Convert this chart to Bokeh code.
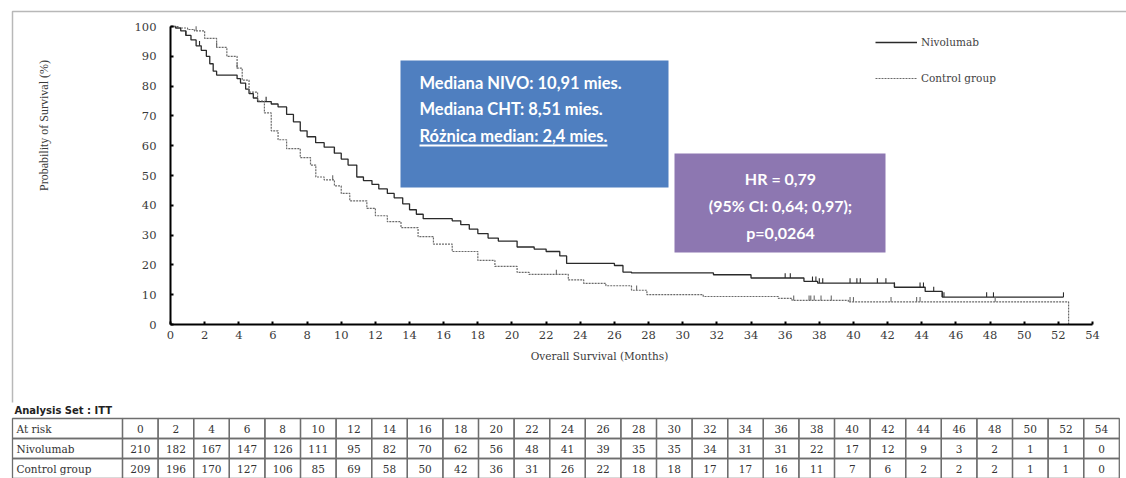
import numpy as np
from bokeh.plotting import figure
from bokeh.models import (Range1d, Label, BoxAnnotation, Legend, LegendItem,
                          ColumnDataSource, FixedTicker)
from bokeh.embed import file_html
from bokeh.resources import INLINE
from bokeh.core.properties import value

# ---- Kaplan-Meier estimates (months, survival % after each event) ----
nivo_time = [0, 0.3, 0.6, 0.9, 1.2, 1.5, 1.8, 2.1, 2.3, 2.5, 2.7, 3.9, 4.1, 4.4, 4.6,
             4.85, 5.1, 5.9, 6.3, 6.8, 7.2, 7.6, 8.0, 8.5, 9.0, 9.6, 10.0, 10.4, 10.91,
             11.3, 11.8, 12.2, 12.7, 13.1, 13.6, 14.0, 14.4, 14.8, 16.5, 17.0, 17.5,
             18.0, 18.6, 19.2, 20.3, 21.3, 22.0, 22.8, 23.2, 26.0, 26.5, 27.0, 31.8,
             34.0, 37.1, 37.9, 42.4, 44.2, 45.2, 52.3]
nivo_surv = [100, 99.5, 98.5, 97, 95.5, 93.5, 92, 90, 87.5, 85, 83.7, 82.5, 81, 79, 77.5,
             76, 74.8, 74, 73, 70.5, 68, 65, 63, 61, 59.5, 57.5, 55.5, 53.5, 49.5,
             48.3, 47, 45.5, 44, 42.5, 40.5, 38.5, 37, 35.5, 34.8, 33.5, 32,
             30.5, 29, 28, 26, 25.3, 24.5, 23, 20.5, 19.8, 17.6, 17.3, 16.7,
             15.6, 14.5, 13.9, 12.5, 11.1, 9.2, 9.2]

ctrl_time = [0, 0.5, 1.0, 1.4, 2.0, 2.7, 3.3, 3.9, 4.2, 4.6, 5.1, 5.5, 5.9, 6.3, 6.8,
             7.6, 8.2, 8.51, 9.0, 9.6, 10.0, 10.5, 11.5, 12.0, 12.7, 13.5, 14.5, 15.4,
             16.5, 18.0, 19.0, 20.3, 21.0, 23.3, 24.2, 25.5, 27.0, 27.9, 31.2, 35.6,
             36.4, 39.7, 52.6]
ctrl_surv = [100, 99.5, 99, 98.5, 96, 93, 90, 86, 82, 78, 75, 71, 65, 62, 59,
             56, 53.5, 49.5, 48.5, 46.5, 44, 41.5, 39, 36.5, 34.5, 32.5, 29.5, 27,
             24.5, 21.5, 19.5, 17.5, 16.8, 15, 13.8, 13, 11.5, 10.0, 9.4, 8.8,
             8.1, 7.6, 0]

nivo_censor = [0.9, 1.7, 5.6, 9.6, 36.0, 36.3, 37.6, 37.8, 38.0, 38.2, 39.8, 40.2,
               40.4, 41.4, 41.9, 42.4, 43.9, 44.1, 44.7, 45.2, 45.3, 47.8, 48.2, 52.3]
ctrl_censor = [1.5, 2.7, 3.9, 9.5, 22.6, 27.3, 36.5, 37.4, 37.5, 37.7, 38.1, 38.7,
               39.8, 40.0, 42.2, 43.7, 43.9, 48.3]

# ---- numbers at risk ----
risk_months = list(range(0, 56, 2))
risk_nivo = [210, 182, 167, 147, 126, 111, 95, 82, 70, 62, 56, 48, 41, 39, 35, 35,
             34, 31, 31, 22, 17, 12, 9, 3, 2, 1, 1, 0]
risk_ctrl = [209, 196, 170, 127, 106, 85, 69, 58, 50, 42, 36, 31, 26, 22, 18, 18,
             17, 17, 16, 11, 7, 6, 2, 2, 2, 1, 1, 0]
row_names = ["At risk", "Nivolumab", "Control group"]

# ---- canvas geometry (pixels) ----
W, H = 1126, 478
FL, FR, FT, FB = 170, 1092, 26, 324          # survival plot area
X_MAX, Y_MAX = 54, 100

SERIF = "Liberation Serif"
WIDE_SERIF = "DejaVu Serif"
BOLD_SANS = "Lato"

kx = (FR - FL) / X_MAX
ky = (FB - FT) / Y_MAX

# the canvas is one frame; the survival axes are pinned inside it
p = figure(width=W, height=H,
           x_range=Range1d(-FL / kx, X_MAX + (W - FR) / kx),
           y_range=Range1d(-(H - FB) / ky, Y_MAX + FT / ky),
           output_backend="svg", toolbar_location=None,
           min_border=0, min_border_left=0, min_border_right=0,
           min_border_top=0, min_border_bottom=0)
p.extra_x_ranges = {"px": Range1d(0, W)}
p.extra_y_ranges = {"px": Range1d(H, 0)}
p.outline_line_color = None
p.xgrid.visible = False
p.ygrid.visible = False
p.background_fill_color = "white"
p.border_fill_color = "white"

p.xaxis.fixed_location = 0
p.yaxis.fixed_location = 0
p.xaxis.bounds = (0, X_MAX)
p.yaxis.bounds = (0, Y_MAX)
p.xaxis.ticker = FixedTicker(ticks=risk_months)
p.yaxis.ticker = FixedTicker(ticks=list(range(0, 101, 10)))
for ax in (p.xaxis[0], p.yaxis[0]):
    ax.axis_line_color = "black"
    ax.axis_line_width = 2
    ax.major_tick_line_color = "black"
    ax.major_tick_line_width = 2
    ax.major_tick_in = 3
    ax.major_tick_out = 0
    ax.minor_tick_line_color = None
    ax.major_label_text_font = WIDE_SERIF
    ax.major_label_text_font_size = "11.5px"
    ax.major_label_text_color = "#3a3a3a"
p.yaxis.major_label_standoff = 14
p.xaxis.major_label_standoff = 6


def sy(py):
    return H - py


# panel frame (left and top edges)
p.line(x=[12, 12, W + 5], y=[402, 11, 11], x_range_name="px", y_range_name="px",
       line_color="#b8b8b8", line_width=1.5)

# survival curves
r_nivo = p.step(nivo_time, nivo_surv, mode="after", line_color="#2a2a2a", line_width=1.3)
r_ctrl = p.step(ctrl_time, ctrl_surv, mode="after", line_color="#6a6a6a",
                line_width=1.2, line_dash="2 1")


def surv_at(times, survs, t):
    idx = np.searchsorted(np.array(times), np.array(t), side="right") - 1
    return np.array(survs)[idx]


nc_y = surv_at(nivo_time, nivo_surv, nivo_censor)
cc_y = surv_at(ctrl_time, ctrl_surv, ctrl_censor)
p.segment(x0=nivo_censor, y0=nc_y, x1=nivo_censor, y1=nc_y + 1.6,
          line_color="#2a2a2a", line_width=1.1)
p.segment(x0=ctrl_censor, y0=cc_y, x1=ctrl_censor, y1=cc_y + 1.6,
          line_color="#6a6a6a", line_width=1.1)

legend = Legend(items=[LegendItem(label="Nivolumab", renderers=[r_nivo]),
                       LegendItem(label="Control group", renderers=[r_ctrl])],
                location=(875, sy(86)), orientation="vertical",
                padding=0, margin=0, spacing=20, glyph_width=42, glyph_height=16,
                label_height=16, label_standoff=4, border_line_color=None,
                background_fill_alpha=0, label_text_font=WIDE_SERIF,
                label_text_font_size="10.5px", label_text_color="#444444")
p.add_layout(legend)

# axis titles
p.add_layout(Label(x=43, y=sy(125), x_units="screen", y_units="screen",
                   text="Probability of Survival (%)", angle=np.pi / 2,
                   text_align="center", text_baseline="middle",
                   text_font=SERIF, text_font_size="12px", text_color="#3a3a3a"))
p.add_layout(Label(x=599, y=sy(355), x_units="screen", y_units="screen",
                   text="Overall Survival (Months)",
                   text_align="center", text_baseline="middle",
                   text_font=WIDE_SERIF, text_font_size="10.5px", text_color="#3a3a3a"))

# median box
p.add_layout(BoxAnnotation(left=400, right=668, top=sy(60), bottom=sy(187),
                           left_units="screen", right_units="screen",
                           top_units="screen", bottom_units="screen",
                           fill_color="#4f7fc0", fill_alpha=1, line_color=None))
for txt, yy in [("Mediana NIVO: 10,91 mies.", 82), ("Mediana CHT: 8,51 mies.", 108),
                ("Różnica median: 2,4 mies.", 135)]:
    p.add_layout(Label(x=419, y=sy(yy), x_units="screen", y_units="screen",
                       text=txt, text_align="left", text_baseline="middle",
                       text_font=BOLD_SANS, text_font_style="bold",
                       text_font_size="16.5px", text_color="white"))
p.add_layout(BoxAnnotation(left=419, right=607, top=sy(144), bottom=sy(146),
                           left_units="screen", right_units="screen",
                           top_units="screen", bottom_units="screen",
                           fill_color="white", fill_alpha=1, line_color=None))

# hazard ratio box
p.add_layout(BoxAnnotation(left=674, right=885, top=sy(153), bottom=sy(252),
                           left_units="screen", right_units="screen",
                           top_units="screen", bottom_units="screen",
                           fill_color="#8d77b1", fill_alpha=1, line_color=None))
for txt, yy in [("HR = 0,79", 178), ("(95% CI: 0,64; 0,97);", 205), ("p=0,0264", 232)]:
    p.add_layout(Label(x=780, y=sy(yy), x_units="screen", y_units="screen",
                       text=txt, text_align="center", text_baseline="middle",
                       text_font=BOLD_SANS, text_font_style="bold",
                       text_font_size="16px", text_color="white"))

# ---- numbers-at-risk table (pixel coordinates) ----
first_left, first_right = 12, 122
col_w = 35.6
row_top, row_h = 418, 20
n_cols = len(risk_months)

cx, cy, cw, ch = [], [], [], []
for r in range(3):
    yc = row_top + row_h * (r + 0.5)
    cx.append((first_left + first_right) / 2)
    cy.append(yc)
    cw.append(first_right - first_left)
    ch.append(row_h)
    for c in range(n_cols):
        cx.append(first_right + col_w * (c + 0.5))
        cy.append(yc)
        cw.append(col_w)
        ch.append(row_h)
cells = ColumnDataSource(dict(x=cx, y=cy, w=cw, h=ch))
p.rect(x="x", y="y", width="w", height="h", source=cells, fill_alpha=0,
       line_color="#6e6e6e", line_width=1.3, x_range_name="px", y_range_name="px")

table_rows = [risk_months, risk_nivo, risk_ctrl]
num_x = [first_right + col_w * (c + 0.5) for r in range(3) for c in range(n_cols)]
num_y = [row_top + row_h * (r + 0.5) for r in range(3) for c in range(n_cols)]
num_t = [str(v) for row in table_rows for v in row]
p.text(x=num_x, y=num_y, text=num_t, text_align="center", text_baseline="middle",
       text_font=value(WIDE_SERIF), text_font_size="10.5px", text_color="#333333",
       x_range_name="px", y_range_name="px")
p.text(x=[16] * 3, y=[row_top + row_h * (r + 0.5) for r in range(3)], text=row_names,
       text_align="left", text_baseline="middle",
       text_font=value(WIDE_SERIF), text_font_size="10.5px", text_color="#333333",
       x_range_name="px", y_range_name="px")
p.text(x=[14], y=[410], text=["Analysis Set : ITT"], text_align="left",
       text_baseline="middle", text_font=value("DejaVu Sans"), text_font_style="bold",
       text_font_size="10px", text_color="#222222",
       x_range_name="px", y_range_name="px")

open("out.html", "w").write(file_html(p, INLINE))
